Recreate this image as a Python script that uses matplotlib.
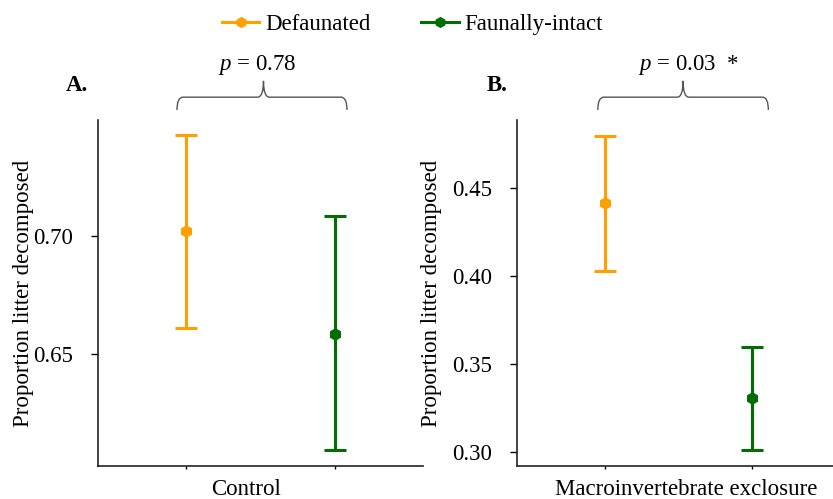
import matplotlib
matplotlib.use("Agg")
import matplotlib.pyplot as plt
from matplotlib.lines import Line2D
from matplotlib.path import Path
from matplotlib.patches import PathPatch
import matplotlib.transforms as mtransforms

plt.rcParams['font.family'] = ['Liberation Serif', 'DejaVu Serif']
plt.rcParams['mathtext.fontset'] = 'custom'
plt.rcParams['mathtext.it'] = 'Liberation Serif:italic'
plt.rcParams['mathtext.rm'] = 'Liberation Serif'

# data
groups = ["Defaunated", "Faunally-intact"]
colors = ["#FFA000", "#006E00"]

control_mean = [0.7018, 0.6585]
control_low = [0.6610, 0.6093]
control_high = [0.7428, 0.7085]

exclosure_mean = [0.4415, 0.3307]
exclosure_low = [0.4030, 0.3010]
exclosure_high = [0.4800, 0.3600]

panel_names = ["A.", "B."]
treatments = ["Control", "Macroinvertebrate exclosure"]
p_labels = [r"$p$ = 0.78", r"$p$ = 0.03  *"]
yticks_a = [0.65, 0.70]
yticks_b = [0.30, 0.35, 0.40, 0.45]

FS = 16.5

fig = plt.figure(figsize=(8.33, 4.99), dpi=100)
ax_a = fig.add_axes([98 / 833, 33 / 499, 325 / 833, 346 / 499])
ax_b = fig.add_axes([517 / 833, 33 / 499, 316 / 833, 346 / 499])


def draw_brace(ax, x0, x1, xm):
    # curly bracket above the axes, x in data units, y in axes units
    tr = mtransforms.blended_transform_factory(ax.transData, ax.transAxes)
    yl, yh, yt = 1.029, 1.066, 1.113
    r = 0.04
    verts = [(x0, yl), (x0, yh), (x0 + r, yh),
             (xm - r, yh), (xm, yh), (xm, yt),
             (xm, yh), (xm + r, yh),
             (x1 - r, yh), (x1, yh), (x1, yl)]
    codes = [Path.MOVETO, Path.CURVE3, Path.CURVE3,
             Path.LINETO, Path.CURVE3, Path.CURVE3,
             Path.CURVE3, Path.CURVE3,
             Path.LINETO, Path.CURVE3, Path.CURVE3]
    patch = PathPatch(Path(verts, codes), transform=tr, fill=False,
                      edgecolor="#555555", linewidth=1.0, clip_on=False)
    ax.add_patch(patch)


def draw_panel(ax, means, lows, highs, ylim, yticks, xlim, idx, label_x, ylabel_x, name_x):
    for i in range(len(groups)):
        ax.errorbar([i], [means[i]],
                    yerr=[[means[i] - lows[i]], [highs[i] - means[i]]],
                    color=colors[i], marker='h', markersize=8,
                    elinewidth=2.2, capsize=8, capthick=2.2, linestyle='none')
    ax.set_xlim(*xlim)
    ax.set_ylim(*ylim)
    ax.set_yticks(yticks)
    ax.set_yticklabels([f"{v:.2f}" for v in yticks], fontsize=FS)
    ax.set_xticks([0, 1])
    ax.set_xticklabels([])
    ax.tick_params(axis='y', length=5, width=1, pad=13)
    ax.tick_params(axis='x', length=2, width=1)
    for s in ["top", "right"]:
        ax.spines[s].set_visible(False)
    for s in ["left", "bottom"]:
        ax.spines[s].set_linewidth(1.2)
        ax.spines[s].set_color("#222222")
    ax.set_ylabel("Proportion litter decomposed", fontsize=FS)
    ax.yaxis.set_label_coords(ylabel_x, 0.5)
    ax.text(label_x, -0.084, treatments[idx], transform=ax.transAxes,
            ha='center', va='baseline', fontsize=FS)
    ax.text(name_x, 1.10, panel_names[idx], transform=ax.transAxes,
            ha='center', va='center', fontsize=FS, fontweight='bold')


draw_panel(ax_a, control_mean, control_low, control_high, (0.6025, 0.749),
           yticks_a, (-0.59, 1.59), 0, 0.455, -0.197, -0.064)
draw_panel(ax_b, exclosure_mean, exclosure_low, exclosure_high, (0.292, 0.489),
           yticks_b, (-0.6, 1.55), 1, 0.535, -0.237, -0.063)

draw_brace(ax_a, -0.06, 1.08, 0.52)
draw_brace(ax_b, -0.05, 1.11, 0.53)

tr_a = mtransforms.blended_transform_factory(ax_a.transData, ax_a.transAxes)
tr_b = mtransforms.blended_transform_factory(ax_b.transData, ax_b.transAxes)
ax_a.text(0.48, 1.16, p_labels[0], transform=tr_a, ha='center', va='center', fontsize=FS)
ax_b.text(0.57, 1.16, p_labels[1], transform=tr_b, ha='center', va='center', fontsize=FS)

handles = [Line2D([], [], color=c, marker='h', markersize=7, linewidth=2.2)
           for c in colors]
fig.legend(handles, groups, loc='center', bbox_to_anchor=(0.495, 0.95),
           ncol=2, frameon=False, fontsize=FS, handlelength=1.65,
           handletextpad=0.25, columnspacing=2.2)

fig.savefig("out.png", dpi=100)
